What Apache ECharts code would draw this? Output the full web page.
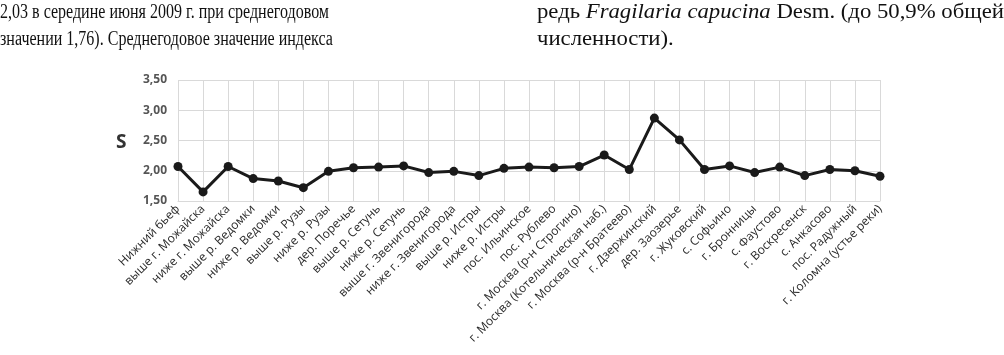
<!DOCTYPE html>
<html><head><meta charset="utf-8">
<script src="https://cdn.jsdelivr.net/npm/echarts@6/dist/echarts.min.js"></script>
<style>
html,body{margin:0;padding:0;background:#fff;width:1004px;height:355px;overflow:hidden;}
#chart{position:absolute;left:0;top:0;width:1004px;height:355px;}
.col{position:absolute;font-family:"Liberation Serif","DejaVu Serif",serif;font-size:20px;line-height:27px;color:#111;transform-origin:0 0;}
.ln{display:block;white-space:nowrap;text-align:justify;text-align-last:justify;}
.ln.last{text-align-last:left;}
.probe{display:inline-block;white-space:nowrap;}
</style></head>
<body>
<div id="chart"></div>
<div class="col" id="c1" style="left:0;top:-2px;"><span class="ln">2,03 в середине июня 2009 г. при среднегодовом</span><span class="ln">значении 1,76). Среднегодовое значение индекса</span></div>
<div class="col" id="c2" style="left:537px;top:-2px;"><span class="ln">редь <i>Fragilaria capucina</i> Desm. (до 50,9% общей</span><span class="ln last">численности).</span></div>
<script>
const categories = ["Нижний бьеф","выше г. Можайска","ниже г. Можайска","выше р. Ведомки","ниже р. Ведомки","выше р. Рузы","ниже р. Рузы","дер. Поречье","выше р. Сетунь","ниже р. Сетунь","выше г. Звенигорода","ниже г. Звенигорода","выше р. Истры","ниже р. Истры","пос. Ильинское","пос. Рублево","г. Москва (р-н Строгино)","г. Москва (Котельническая наб.)","г. Москва (р-н Братеево)","г. Дзержинский","дер. Заозерье","г. Жуковский","с. Софьино","г. Бронницы","с. Фаустово","г. Воскресенск","с. Анкасово","пос. Радужный","г. Коломна (устье реки)"];
const values = [2.07,1.65,2.07,1.87,1.83,1.72,1.99,2.05,2.06,2.08,1.97,1.99,1.92,2.04,2.06,2.05,2.07,2.26,2.02,2.87,2.51,2.02,2.08,1.97,2.06,1.92,2.02,2.00,1.91];
const yMin = 1.5, yMax = 3.5, yStep = 0.5;
const yName = "S";

// scale each text column horizontally so its first line fills the target width
function natWidth(el){
  const p = document.createElement('span');
  p.className = 'probe';
  p.innerHTML = el.innerHTML;
  el.parentNode.appendChild(p);
  const w = p.getBoundingClientRect().width;
  p.remove();
  return w;
}
function fit(id, w){
  const c = document.getElementById(id);
  const lines = c.querySelectorAll('.ln');
  const nat = natWidth(lines[0]);
  const s = w / nat;
  c.style.width = nat + 'px';
  c.style.transform = 'scaleX(' + s + ')';
}
fit('c1', 329);
fit('c2', 467);

const chart = echarts.init(document.getElementById('chart'), null, {renderer:'canvas'});
chart.setOption({
  animation:false,
  grid:{left:178,right:124,top:80,bottom:154,containLabel:false},
  graphic:[{type:'text',left:116,top:133,style:{text:yName,fontFamily:'Open Sans',fontSize:19,fontWeight:'bold',fill:'#333'}}],
  xAxis:{
    type:'category',data:categories,boundaryGap:false,
    axisLine:{show:true,lineStyle:{color:'#d9d9d9',width:1}},
    axisTick:{show:false},
    splitLine:{show:true,lineStyle:{color:'#d9d9d9',width:1}},
    axisLabel:{interval:0,rotate:45,fontFamily:'Open Sans',fontSize:12,color:'#2a2a2a',margin:6}
  },
  yAxis:{
    type:'value',min:yMin,max:yMax,interval:yStep,
    axisLine:{show:false},axisTick:{show:false},
    splitLine:{show:true,lineStyle:{color:'#d9d9d9',width:1}},
    axisLabel:{fontFamily:'Open Sans',fontSize:12,fontWeight:'bold',color:'#555',margin:11,
      formatter:v=>v.toFixed(2).replace('.',',')}
  },
  series:[{
    type:'line',data:values,symbol:'circle',symbolSize:9,
    lineStyle:{color:'#1a1a1a',width:3},
    itemStyle:{color:'#1a1a1a'}
  }]
});
</script>
</body></html>
